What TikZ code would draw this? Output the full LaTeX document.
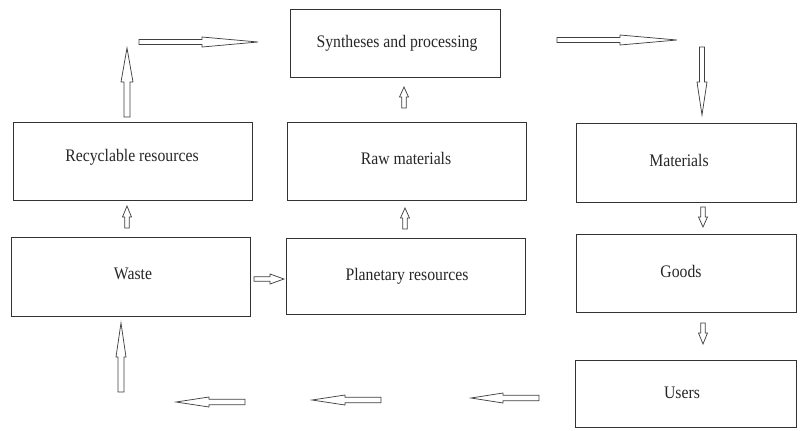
\documentclass[tikz,border=0pt]{standalone}
\usepackage{graphicx}
\usepackage{fontspec}
\setmainfont{Liberation Serif}
\newfontfamily\tnr{Liberation Serif}
\newcommand\lt[1]{\scalebox{1}[1.12]{#1}}
\newcommand\boxnode[5]{\node[box, minimum width={(#4-#2)*0.75pt}, minimum height={(#5-#3)*0.75pt}] (#1) at ({(#2+#4)/2},{(#3+#5)/2}) {};}
% horizontal block arrow: tail x, head-base x, tip x, y, shaft half-width, head half-width
\newcommand\harr[6]{\draw[arr] (#1,{#4-#5}) -- (#2,{#4-#5}) -- (#2,{#4-#6}) -- (#3,#4) -- (#2,{#4+#6}) -- (#2,{#4+#5}) -- (#1,{#4+#5}) -- cycle;}
% vertical block arrow: x, tail y, head-base y, tip y, shaft half-width, head half-width
\newcommand\varr[6]{\draw[arr] ({#1-#5},#2) -- ({#1-#5},#3) -- ({#1-#6},#3) -- (#1,#4) -- ({#1+#6},#3) -- ({#1+#5},#3) -- ({#1+#5},#2) -- cycle;}
\begin{document}
\begin{tikzpicture}[x=0.75pt,y=-0.75pt,
  box/.style={draw=black!80, line width=0.75pt, inner sep=0pt},
  lbl/.style={font=\tnr\fontsize{11.8}{13}\selectfont, text=black!85, inner sep=0pt},
  arr/.style={draw=black!75, line width=0.55pt, fill=white, line join=miter}]
\useasboundingbox (0,0) rectangle (808,430);
% boxes
\boxnode{syn}{290}{9}{500}{77}
\boxnode{rec}{13}{122}{252}{200}
\boxnode{raw}{287}{122}{526}{200}
\boxnode{mat}{576}{123}{796}{202}
\boxnode{waste}{11}{237}{250}{316}
\boxnode{plan}{286}{238}{525}{314}
\boxnode{goods}{576}{234}{796}{312}
\boxnode{users}{575}{360}{796}{427}
% labels
\node[lbl] (synt) at (397,43) {\lt{Syntheses and processing}};
\node[lbl] (rect) at (132,157) {\lt{Recyclable resources}};
\node[lbl] (rawt) at (406,158) {\lt{Raw materials}};
\node[lbl] (matt) at (679,160) {\lt{Materials}};
\node[lbl] (wastet) at (133,274) {\lt{Waste}};
\node[lbl] (plant) at (407,276) {\lt{Planetary resources}};
\node[lbl] (goodst) at (681,271) {\lt{Goods}};
\node[lbl] (userst) at (682,393) {\lt{Users}};
% large arrows
\varr{127}{117}{82}{48}{3}{6}
\harr{139}{202}{258}{42}{2.5}{5}
\harr{557}{620}{677}{40}{2.5}{5}
\varr{702}{47}{82}{115}{2.5}{5}
\varr{121}{392}{357}{323}{3}{5}
\harr{245}{209}{176}{402}{2.7}{5}
\harr{381}{345}{312}{400}{2.7}{5}
\harr{539}{503}{471}{398}{2.7}{5}
% small arrows
\varr{404}{108}{97}{87}{2.2}{4.5}
\varr{127}{228}{217}{206}{2.2}{4.5}
\varr{405}{229}{218}{208}{2.2}{4.5}
\varr{703}{207}{217}{227}{2.2}{4.5}
\harr{254}{270}{284}{279}{2.2}{5}
\varr{703}{323}{333}{344}{2.2}{4.5}
\end{tikzpicture}
\end{document}
